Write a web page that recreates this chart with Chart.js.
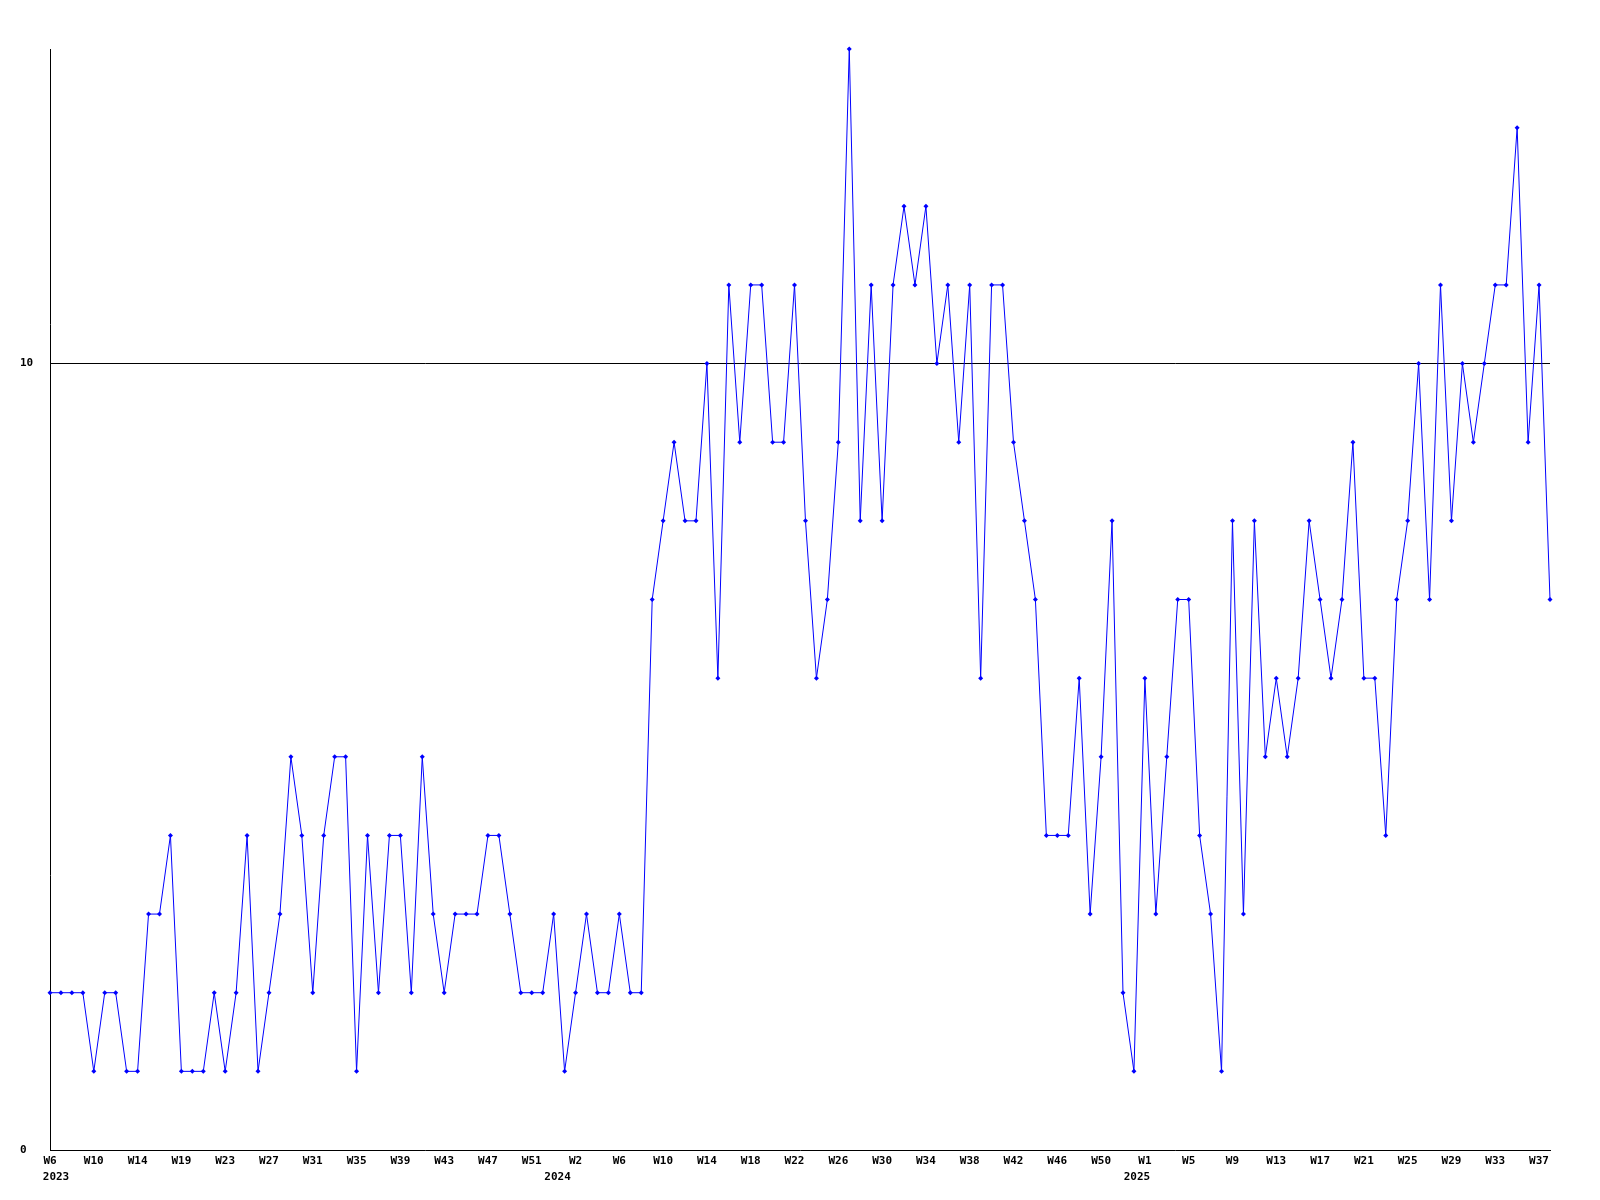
<!DOCTYPE html>
<html>
<head>
<meta charset="utf-8">
<script src="https://cdn.jsdelivr.net/npm/chart.js@4.4.1/dist/chart.umd.min.js"></script>
<style>
  body { margin: 0; background: #fff; }
  #wrap { width: 1600px; height: 1200px; }
</style>
</head>
<body>
<div id="wrap"><canvas id="chart"></canvas></div>
<script>
// weekly counts (2023 W6 .. 2025 W38)
const counts2023 = [2, 2, 2, 2, 1, 2, 2, 1, 1, 3, 3, 4, 1, 1, 1, 2, 1, 2, 4, 1,
  2, 3, 5, 4, 2, 4, 5, 5, 1, 4, 2, 4, 4, 2, 5, 3, 2, 3, 3, 3, 4, 4, 3, 2, 2, 2, 3];
const counts2024 = [1, 2, 3, 2, 2, 3, 2, 2, 7, 8, 9, 8, 8, 10, 6, 11, 9, 11, 11, 9,
  9, 11, 8, 6, 7, 9, 14, 8, 11, 8, 11, 12, 11, 12, 10, 11, 9, 11, 6, 11,
  11, 9, 8, 7, 4, 4, 4, 6, 3, 5, 8, 2, 1];
const counts2025 = [6, 3, 5, 7, 7, 4, 3, 1, 8, 3, 8, 5, 6, 5, 6, 8, 7, 6, 7, 9,
  6, 6, 4, 7, 8, 10, 7, 11, 8, 10, 9, 10, 11, 11, 13, 9, 11, 7];

// x tick labels, one every 4th week
const tickWeeks = ['W6', 'W10', 'W14', 'W19', 'W23', 'W27', 'W31', 'W35', 'W39', 'W43', 'W47', 'W51',
  'W2', 'W6', 'W10', 'W14', 'W18', 'W22', 'W26', 'W30', 'W34', 'W38', 'W42', 'W46', 'W50',
  'W1', 'W5', 'W9', 'W13', 'W17', 'W21', 'W25', 'W29', 'W33', 'W37'];
const tickYears = ['2023', '2024', '2025'];
const yearTickIndex = [0, 12, 25]; // which week tick each year sits under
const yTickValues = [0, 10];

const counts = counts2023.concat(counts2024, counts2025);
const labels = counts.map((c, i) => i);
const FONT = 'DejaVu Sans Mono';

// draws the year line under the week ticks
const yearPlugin = {
  id: 'years',
  afterDraw(chart) {
    const x = chart.scales.x;
    const ctx = chart.ctx;
    const shift = [6, -18, -8];
    ctx.save();
    ctx.font = 'bold 11px "' + FONT + '"';
    ctx.fillStyle = '#000';
    ctx.textAlign = 'center';
    ctx.textBaseline = 'middle';
    tickYears.forEach((y, k) => {
      ctx.fillText(y, x.getPixelForValue(yearTickIndex[k] * 4) + shift[k], x.top + 27);
    });
    ctx.restore();
  }
};

new Chart(document.getElementById('chart'), {
  type: 'line',
  data: {
    labels: labels,
    datasets: [{
      data: counts,
      borderColor: '#0000ff',
      backgroundColor: '#0000ff',
      borderWidth: 1,
      tension: 0,
      pointStyle: 'rectRot',
      pointRadius: 2.5,
      pointBorderWidth: 0,
      clip: false
    }]
  },
  options: {
    responsive: true,
    maintainAspectRatio: false,
    animation: false,
    layout: { padding: { top: 49, left: 20, right: 50, bottom: 0 } },
    plugins: { legend: { display: false }, tooltip: { enabled: false } },
    scales: {
      x: {
        type: 'category',
        offset: false,
        grid: { display: false, drawTicks: false },
        border: { display: true, color: '#000', width: 1 },
        ticks: {
          autoSkip: false,
          maxRotation: 0,
          minRotation: 0,
          padding: 5,
          color: '#000',
          font: { family: FONT, size: 11, weight: 'bold' },
          callback: (v, i) => (i % 4 === 0 ? tickWeeks[i / 4] : '')
        },
        afterFit: (s) => { s.height = 50; }
      },
      y: {
        min: 0,
        max: 14,
        afterBuildTicks: (s) => { s.ticks = yTickValues.map(v => ({ value: v })); },
        afterFit: (s) => { s.width = 30; },
        grid: {
          drawTicks: false,
          color: (c) => (c.tick && c.tick.value === 10 ? '#000' : 'rgba(0,0,0,0)')
        },
        border: { display: true, color: '#000', width: 1 },
        ticks: {
          crossAlign: 'far',
          color: '#000',
          font: { family: FONT, size: 11, weight: 'bold' }
        }
      }
    }
  },
  plugins: [yearPlugin]
});
</script>
</body>
</html>
